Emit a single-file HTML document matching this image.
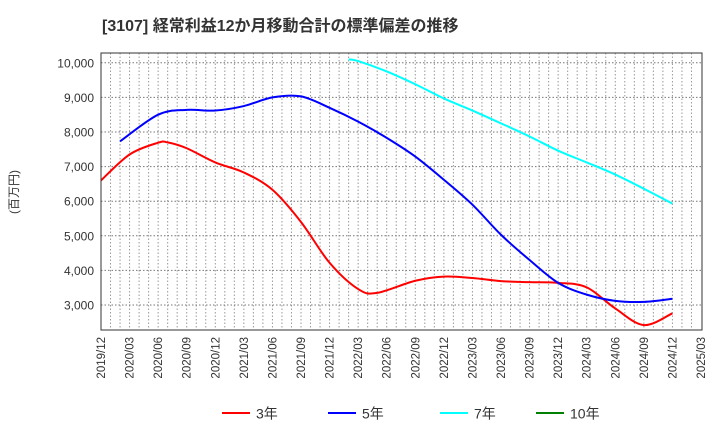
<!DOCTYPE html>
<html><head><meta charset="utf-8"><style>
body{margin:0;background:#fff;font-family:"Liberation Sans","Noto Sans CJK JP",sans-serif}
</style></head><body>
<svg width="720" height="440" xmlns="http://www.w3.org/2000/svg" font-family="Liberation Sans, Noto Sans CJK JP, sans-serif">
<text x="102" y="31" font-size="16" font-weight="bold" fill="#333">[3107]  経常利益12か月移動合計の標準偏差の推移</text>
<text transform="translate(18,192) rotate(-90)" text-anchor="middle" font-size="12" fill="#333">(百万円)</text>
<g id="grid"></g><g id="axes"></g><g id="series"></g>
<rect x="101" y="53" width="601" height="277" fill="none" stroke="#333" stroke-width="1"/>
<g id="legend"></g>
</svg>
<script>
const NS="http://www.w3.org/2000/svg";
const xLabels=["2019/12","2020/03","2020/06","2020/09","2020/12","2021/03","2021/06","2021/09","2021/12","2022/03","2022/06","2022/09","2022/12","2023/03","2023/06","2023/09","2023/12","2024/03","2024/06","2024/09","2024/12","2025/03"];
const yTicks=[3000,4000,5000,6000,7000,8000,9000,10000];
const m3=[0,3,6,7,9,12,15,18,21,24,27,29,33,36,39,42,45,48,51,54,57,60];
const v3=[6600,7350,7690,7700,7530,7120,6830,6330,5400,4220,3460,3350,3700,3820,3780,3690,3660,3640,3510,2900,2420,2760];
const m5=[2,6,9,12,15,18,21,24,27,30,33,36,39,42,45,48,51,54,57,60];
const v5=[7730,8500,8640,8620,8750,9000,9030,8700,8300,7830,7290,6620,5900,5030,4300,3640,3300,3120,3090,3180];
const m7=[26,27,30,33,36,39,42,45,48,51,54,57,60];
const v7=[10100,10050,9750,9380,8970,8620,8250,7870,7460,7120,6770,6360,5930];
const names=["3年","5年","7年","10年"];
const colors=["#ff0000","#0000ff","#00ffff","#008000"];
const X=m=>101+m*600/63;
const Y=v=>305-(v-3000)*34.6/1000;
function el(t,a,p){const e=document.createElementNS(NS,t);for(const k in a)e.setAttribute(k,a[k]);p.appendChild(e);return e;}
const grid=document.getElementById('grid'),axes=document.getElementById('axes'),ser=document.getElementById('series'),leg=document.getElementById('legend');
for(let m=1;m<63;m++){const g=el('line',{x1:X(m),x2:X(m),y1:53,y2:330,stroke:'#999','stroke-dasharray':'1.5,2','stroke-width':1},grid);

}
yTicks.forEach(v=>{const g=el('line',{x1:101,x2:702,y1:Y(v),y2:Y(v),stroke:'#777','stroke-dasharray':'1.5,2','stroke-width':1},grid);


const t=el('text',{x:94,y:Y(v)+4.5,'text-anchor':'end','font-size':12,fill:'#333'},axes);t.textContent=v.toLocaleString('en-US');

});
xLabels.forEach((s,i)=>{const x=X(i*3);const t=el('text',{transform:`translate(${x+4},337) rotate(-90)`,'text-anchor':'end','font-size':11.5,fill:'#333'},axes);t.textContent=s;

});
function path(ms,vs){const p=ms.map((m,i)=>[X(m),Y(vs[i])]);let d=`M${p[0][0]},${p[0][1]}`;
for(let i=0;i<p.length-1;i++){const p0=p[i-1]||p[i],p1=p[i],p2=p[i+1],p3=p[i+2]||p2;
d+=` C${p1[0]+(p2[0]-p0[0])/6},${p1[1]+(p2[1]-p0[1])/6} ${p2[0]-(p3[0]-p1[0])/6},${p2[1]-(p3[1]-p1[1])/6} ${p2[0]},${p2[1]}`;}return d;}
[[m3,v3],[m5,v5],[m7,v7]].forEach((s,i)=>{const e=el('path',{d:path(s[0],s[1]),fill:'none',stroke:colors[i],'stroke-width':2},ser);

});
const lx=[222,328,440,536];
names.forEach((n,i)=>{const g=el('g',{},leg);


el('line',{x1:lx[i],x2:lx[i]+28,y1:413,y2:413,stroke:colors[i],'stroke-width':2},g);
const t=el('text',{x:lx[i]+34,y:418.5,'font-size':14,fill:'#333'},g);t.textContent=n;});
</script>
</body></html>
